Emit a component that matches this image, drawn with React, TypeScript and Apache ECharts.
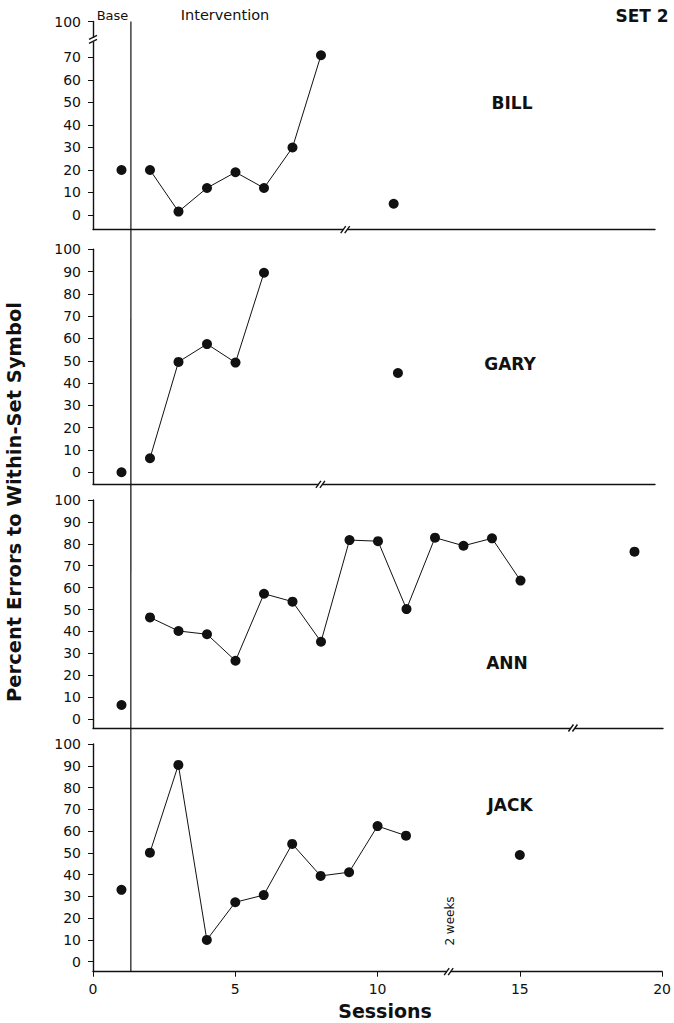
import React, { useEffect, useRef } from "react";
import * as echarts from "echarts";

// ---- data (session, percent errors) ----
const billBase = [[1, 20]];
const billIntervention = [[2, 20], [3, 1.5], [4, 12], [5, 19], [6, 12], [7, 30], [8, 71]];
const billFollowUp = [[10.55, 5]];

const garyBase = [[1, 0]];
const garyIntervention = [[2, 6.3], [3, 49.5], [4, 57.5], [5, 49.2], [6, 89.5]];
const garyFollowUp = [[10.7, 44.5]];

const annBase = [[1, 6.4]];
const annIntervention = [
  [2, 46.4], [3, 40.2], [4, 38.7], [5, 26.6], [6, 57.2], [7, 53.6], [8, 35.3],
  [9, 81.7], [10, 81.2], [11, 50.2], [12, 82.8], [13, 79.1], [14, 82.5], [15, 63.2],
];
const annFollowUp = [[19, 76.4]];

const jackBase = [[1, 33]];
const jackIntervention = [
  [2, 50.1], [3, 90.4], [4, 10], [5, 27.3], [6, 30.6], [7, 54.1], [8, 39.4],
  [9, 41.1], [10, 62.3], [11, 57.9],
];
const jackFollowUp = [[15, 49]];

const names = ["BILL", "GARY", "ANN", "JACK"];
const yTicks = [0, 10, 20, 30, 40, 50, 60, 70, 80, 90, 100];
const billYTicks = [0, 10, 20, 30, 40, 50, 60, 70, 86];
const xTicks = [0, 5, 10, 15, 20];
const xBreaks = [8.85, 7.98, 16.84, 12.5];
const phaseChange = 1.33;
const billYBreak = 78;

const FONT = "DejaVu Sans";
const INK = "#111";

export default function App() {
  const ref = useRef<HTMLDivElement>(null);

  useEffect(() => {
    if (!ref.current) return;
    const chart = echarts.init(ref.current, null, { renderer: "svg" });

    const panels = [
      { base: billBase, inter: billIntervention, fu: billFollowUp, top: 21.5, height: 208.1, min: -6.5, max: 86, xmax: 19.72, right: 19, ticks: billYTicks },
      { base: garyBase, inter: garyIntervention, fu: garyFollowUp, top: 249.3, height: 235, min: -5.4, max: 100, xmax: 19.72, right: 19, ticks: yTicks },
      { base: annBase, inter: annIntervention, fu: annFollowUp, top: 500, height: 228, min: -4.1, max: 100, xmax: 20, right: 11, ticks: yTicks },
      { base: jackBase, inter: jackIntervention, fu: jackFollowUp, top: 744, height: 227.7, min: -4.6, max: 100, xmax: 20, right: 11, ticks: yTicks },
    ];

    const grid = panels.map((p) => ({ left: 93, right: p.right, top: p.top, height: p.height, containLabel: false }));

    const xAxis = panels.map((p, i) => ({
      type: "value",
      gridIndex: i,
      min: 0,
      max: p.xmax,
      axisLine: { show: true, onZero: false, lineStyle: { color: INK, width: 1.4 } },
      axisTick: i === 3 ? { show: true, length: 5, customValues: xTicks, lineStyle: { color: INK } } : { show: false },
      axisLabel: i === 3
        ? { show: true, customValues: xTicks, color: INK, fontSize: 14, fontFamily: FONT, margin: 10 }
        : { show: false },
      splitLine: { show: false },
    }));

    const yAxis = panels.map((p, i) => ({
      type: "value",
      gridIndex: i,
      min: p.min,
      max: p.max,
      axisLine: { show: true, onZero: false, lineStyle: { color: INK, width: 1.4 } },
      axisTick: { show: true, length: 5, customValues: p.ticks, lineStyle: { color: INK } },
      axisLabel: {
        show: true,
        customValues: p.ticks,
        color: INK,
        fontSize: 14,
        fontFamily: FONT,
        margin: 12,
        formatter: (v: number) => (i === 0 && v === 86 ? "100" : String(v)),
      },
      splitLine: { show: false },
    }));

    const dot = { color: INK, opacity: 1 };
    const series: any[] = [];
    panels.forEach((p, i) => {
      series.push({ type: "scatter", xAxisIndex: i, yAxisIndex: i, data: p.base, symbol: "circle", symbolSize: 10, itemStyle: dot });
      series.push({
        type: "line", xAxisIndex: i, yAxisIndex: i, data: p.inter, symbol: "circle", symbolSize: 10, showSymbol: true,
        itemStyle: dot, lineStyle: { color: INK, width: 1 },
      });
      series.push({ type: "scatter", xAxisIndex: i, yAxisIndex: i, data: p.fu, symbol: "circle", symbolSize: 10, itemStyle: dot });
    });

    const txt = (text: string, x: number, y: number, size: number, weight: string, extra: any = {}) => ({
      type: "text",
      x,
      y,
      z: 20,
      ...extra,
      style: { text, fontSize: size, fontWeight: weight, fontFamily: FONT, fill: INK, align: "center", verticalAlign: "middle" },
    });

    const namePos = [[512, 102.5], [510, 363.5], [507, 662.5], [510, 804.5]];
    const texts: any[] = [
      txt("Base", 112.5, 15, 13, "normal"),
      txt("Intervention", 225, 15, 14.5, "normal"),
      txt("SET 2", 642, 16, 17, "bold"),
      txt("Percent Errors to Within-Set Symbol", 14.5, 502, 19.5, "bold", { rotation: Math.PI / 2 }),
      txt("Sessions", 385, 1011, 19, "bold"),
      txt("2 weeks", 450, 921, 12, "normal", { rotation: Math.PI / 2 }),
      ...names.map((n, i) => txt(n, namePos[i][0], namePos[i][1], 17, "bold")),
    ];

    chart.setOption({
      animation: false,
      backgroundColor: "#fff",
      grid,
      xAxis,
      yAxis,
      series,
      graphic: texts,
    });

    // derived marks from the axes' scales
    const px = (g: number, x: number, y: number) => chart.convertToPixel({ gridIndex: g } as any, [x, y]) as number[];
    const extra: any[] = [];
    const top = px(0, phaseChange, panels[0].max);
    const bot = px(3, phaseChange, panels[3].min);
    extra.push({ type: "line", z: 5, shape: { x1: top[0], y1: top[1], x2: bot[0], y2: bot[1] }, style: { stroke: INK, lineWidth: 1.2 } });

    xBreaks.forEach((b, i) => {
      const c = px(i, b, panels[i].min);
      extra.push({ type: "rect", z: 10, shape: { x: c[0] - 2, y: c[1] - 3, width: 4, height: 6 }, style: { fill: "#fff" } });
      [-2, 2].forEach((d) => {
        extra.push({ type: "line", z: 11, shape: { x1: c[0] + d - 2.5, y1: c[1] + 3.5, x2: c[0] + d + 2.5, y2: c[1] - 3.5 }, style: { stroke: INK, lineWidth: 1.4 } });
      });
    });
    const yb = px(0, 0, billYBreak);
    extra.push({ type: "rect", z: 10, shape: { x: yb[0] - 3, y: yb[1] - 2, width: 6, height: 4 }, style: { fill: "#fff" } });
    [-2, 2].forEach((d) => {
      extra.push({ type: "line", z: 11, shape: { x1: yb[0] - 4, y1: yb[1] + d + 2, x2: yb[0] + 4, y2: yb[1] + d - 2 }, style: { stroke: INK, lineWidth: 1.4 } });
    });

    chart.setOption({ graphic: [...texts, ...extra] });

    return () => chart.dispose();
  }, []);

  return <div ref={ref} style={{ position: "absolute", left: 0, top: 0, width: 674, height: 1023 }} />;
}
